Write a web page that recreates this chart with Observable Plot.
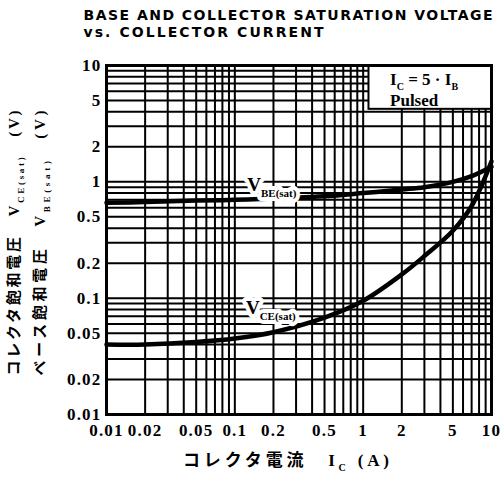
<!DOCTYPE html>
<html><head><meta charset="utf-8">
<script src="https://cdn.jsdelivr.net/npm/d3@7"></script>
<script src="https://cdn.jsdelivr.net/npm/@observablehq/plot@0.6"></script>
<style>body{margin:0;background:#fff}</style>
</head><body><div id="chart"></div>
<script>
// ---- data ----
const collectorCurrent = [0.01, 0.02, 0.05, 0.1, 0.2, 0.5, 1, 2, 3, 5, 7, 10];
const vbeSat = [0.66, 0.67, 0.69, 0.70, 0.72, 0.75, 0.80, 0.86, 0.90, 1.0, 1.12, 1.35];
const vceSat = [0.040, 0.040, 0.042, 0.045, 0.051, 0.068, 0.095, 0.16, 0.23, 0.38, 0.62, 1.5];

const tickValues = [0.01, 0.02, 0.05, 0.1, 0.2, 0.5, 1, 2, 5, 10];
const tickLabels = ["0.01", "0.02", "0.05", "0.1", "0.2", "0.5", "1", "2", "5", "10"];
const gridValues = [0.01, 0.02, 0.03, 0.04, 0.05, 0.06, 0.07, 0.08, 0.09,
                    0.1, 0.2, 0.3, 0.4, 0.5, 0.6, 0.7, 0.8, 0.9,
                    1, 2, 3, 4, 5, 6, 7, 8, 9, 10];

const titleLines = ["BASE AND COLLECTOR SATURATION VOLTAGE", "vs. COLLECTOR CURRENT"];
const xLabel = "コレクタ電流　I_{C} (A)";
const yLabels = ["コレクタ飽和電圧　V_{CE(sat)}　(V)", "ベース飽和電圧　V_{BE(sat)}　(V)"];
const curveLabels = [
  {text: "V_{BE(sat)}", x: 0.125, y: 0.94},
  {text: "V_{CE(sat)}", x: 0.122, y: 0.082}
];
const conditionBox = [{x1: 1.11, x2: 10, y1: 4.2, y2: 10}];
const conditionText = [
  {text: "I_{C} = 5 · I_{B}", x: 1.62, y: 7.6},
  {text: "Pulsed", x: 1.62, y: 4.95}
];

const vbeRows = collectorCurrent.map((c, i) => ({c, v: vbeSat[i]}));
const vceRows = collectorCurrent.map((c, i) => ({c, v: vceSat[i]}));

const serif = "'Liberation Serif', 'Noto Sans CJK JP', serif";
const sans = "'DejaVu Sans', 'Liberation Sans', sans-serif";

const chart = Plot.plot({
  width: 501, height: 477,
  marginLeft: 106, marginRight: 10, marginTop: 65, marginBottom: 63,
  style: {fontFamily: serif, background: "#fff", color: "#000"},
  x: {type: "log", domain: [0.01, 10], axis: null},
  y: {type: "log", domain: [0.01, 10], axis: null},
  marks: [
    Plot.ruleX(gridValues, {stroke: "#000", strokeWidth: 2}),
    Plot.ruleY(gridValues, {stroke: "#000", strokeWidth: 2}),
    Plot.rect(conditionBox, {x1: "x1", x2: "x2", y1: "y1", y2: "y2", fill: "#fff", stroke: "#000", strokeWidth: 2}),
    Plot.frame({stroke: "#000", strokeWidth: 3}),
    Plot.line(vbeRows, {x: "c", y: "v", curve: "catmull-rom", stroke: "#000", strokeWidth: 4.5}),
    Plot.line(vceRows, {x: "c", y: "v", curve: "catmull-rom", stroke: "#000", strokeWidth: 4.5}),
    Plot.text(curveLabels, {x: "x", y: "y", text: "text", textAnchor: "start", fontSize: 19, fontWeight: "bold",
      stroke: "#fff", strokeWidth: 8, fill: "#000", fontFamily: serif}),
    Plot.text(conditionText, {x: "x", y: "y", text: "text", textAnchor: "start", fontSize: 17, fontWeight: "bold", fill: "#000"}),
    // tick labels
    Plot.text(tickValues, {x: d => d, frameAnchor: "bottom", lineAnchor: "middle", textAnchor: "middle", dy: 16,
      text: (d, i) => tickLabels[i], fontSize: 17, fontWeight: "bold"}),
    Plot.text(tickValues, {y: d => d, frameAnchor: "left", lineAnchor: "middle", textAnchor: "end", dx: -5,
      text: (d, i) => tickLabels[i], fontSize: 17, fontWeight: "bold"}),
    // titles
    Plot.text([titleLines[0]], {frameAnchor: "top-left", textAnchor: "start", lineAnchor: "middle", dx: -23, dy: -50,
      fontSize: 14, fontWeight: "bold", fontFamily: sans}),
    Plot.text([titleLines[1]], {frameAnchor: "top-left", textAnchor: "start", lineAnchor: "middle", dx: -23, dy: -33,
      fontSize: 14, fontWeight: "bold", fontFamily: sans}),
    Plot.text([xLabel], {frameAnchor: "bottom", textAnchor: "middle", lineAnchor: "middle", dx: -13, dy: 46,
      fontSize: 17, fontWeight: "bold"}),
    Plot.text([yLabels[0]], {frameAnchor: "left", textAnchor: "middle", lineAnchor: "middle", dx: -92, dy: 3, rotate: -90,
      fontSize: 15, fontWeight: "bold"}),
    Plot.text([yLabels[1]], {frameAnchor: "left", textAnchor: "middle", lineAnchor: "middle", dx: -66, dy: 3, rotate: -90,
      fontSize: 15, fontWeight: "bold"})
  ]
});
document.getElementById("chart").appendChild(chart);

// ---- post-process: subscripts, letter spacing ----
const lengths = new Map([
  [titleLines[0], 409], [titleLines[1], 240], [xLabel, 206], [yLabels[0], 265], [yLabels[1], 265]
]);
d3.select(chart).selectAll("text").each(function () {
  const t = this.textContent;
  if (tickLabels.includes(t)) this.setAttribute("letter-spacing", "1.2");
  if (t.includes("_{")) {
    const parts = t.split(/(_\{[^}]*\})/).filter(s => s.length);
    const baseSize = parseFloat(getComputedStyle(this).fontSize) || 16;
    const subSize = Math.round(baseSize * 0.6);
    const shift = Math.round(baseSize * 0.3);
    while (this.firstChild) this.removeChild(this.firstChild);
    let down = false;
    for (const p of parts) {
      const ts = document.createElementNS("http://www.w3.org/2000/svg", "tspan");
      if (p.startsWith("_{")) {
        ts.textContent = p.slice(2, -1);
        ts.setAttribute("font-size", subSize);
        ts.setAttribute("dy", shift);
        down = true;
      } else {
        ts.textContent = p;
        if (down) { ts.setAttribute("dy", -shift); down = false; }
      }
      this.appendChild(ts);
    }
  }
  if (lengths.has(t)) {
    this.setAttribute("textLength", lengths.get(t));
    this.setAttribute("lengthAdjust", "spacing");
  }
});
</script>
</body></html>
